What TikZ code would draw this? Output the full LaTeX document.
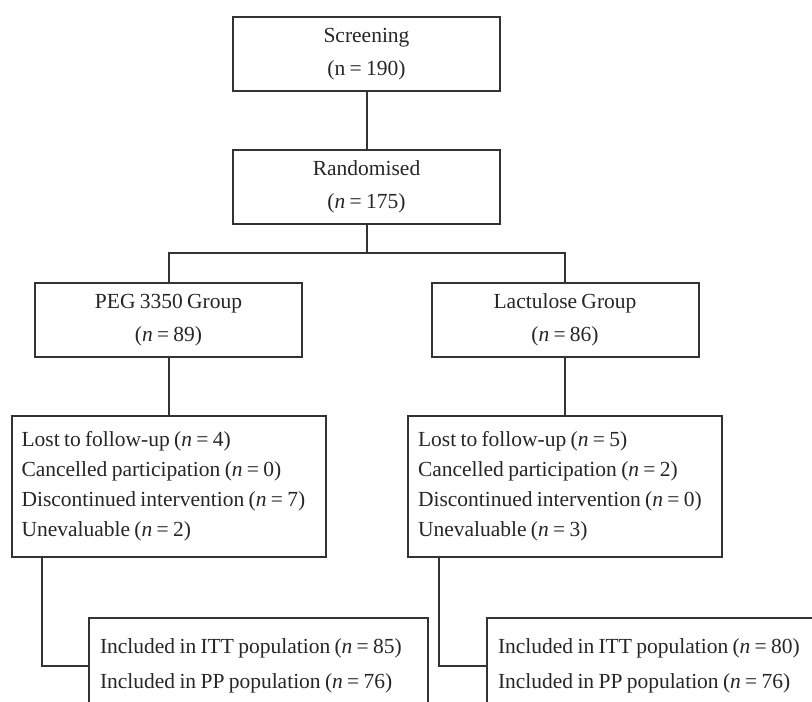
\documentclass[tikz,border=0pt]{standalone}
\usepackage{fontspec}
\setmainfont{Liberation Serif}[WordSpace=0.8]
\usepackage{tikz}

\begin{document}
\begin{tikzpicture}[x=1pt, y=-1pt,
    box/.style={draw=black!80, line width=2pt, text=black!85, align=center, font=\fontsize{21.5}{32.5}\selectfont, minimum width=267pt, minimum height=74pt},
    listbox/.style={draw=black!80, line width=2pt, text=black!85, align=flush left, font=\fontsize{21.5}{30}\selectfont, inner xsep=10pt, text width=294pt, minimum height=141pt},
    incbox/.style={draw=black!80, line width=2pt, text=black!85, align=flush left, font=\fontsize{21.5}{35}\selectfont, inner xsep=11pt, text width=317pt, minimum height=95pt},
    line/.style={draw=black!80, line width=2pt}]
    \useasboundingbox (0,0) rectangle (812,702);

    \node[box] (screen) at (366.5,54) {Screening\\(n = 190)};
    \node[box] (rand) at (366.5,187) {Randomised\\(\textit{n} = 175)};
    \coordinate (split) at (366.5,253);
    \node[box] (peg) at (168.5,320) {PEG 3350 Group\\(\textit{n} = 89)};
    \node[box] (lact) at (565,320) {Lactulose Group\\(\textit{n} = 86)};

    \node[listbox] (lostpeg) at (168.5,486.5) {Lost to follow-up (\textit{n} = 4)\\Cancelled participation (\textit{n} = 0)\\Discontinued intervention (\textit{n} = 7)\\Unevaluable (\textit{n} = 2)};
    \node[listbox] (lostlact) at (565,486.5) {Lost to follow-up (\textit{n} = 5)\\Cancelled participation (\textit{n} = 2)\\Discontinued intervention (\textit{n} = 0)\\Unevaluable (\textit{n} = 3)};

    \node[incbox] (incpeg) at (258.5,665.5) {Included in ITT population (\textit{n} = 85)\\Included in PP population (\textit{n} = 76)};
    \node[incbox] (inclact) at (656.5,665.5) {Included in ITT population (\textit{n} = 80)\\Included in PP population (\textit{n} = 76)};

    \draw[line] (screen) -- (rand);
    \draw[line] (rand) -- (split);
    \draw[line] (split) -| (peg);
    \draw[line] (split) -| (lact);

    \draw[line] (peg) -- (lostpeg);
    \draw[line] (lact) -- (lostlact);

    \draw[line] ([xshift=31pt]lostpeg.south west) |- (incpeg.west);
    \draw[line] ([xshift=32pt]lostlact.south west) |- (inclact.west);
\end{tikzpicture}
\end{document}
